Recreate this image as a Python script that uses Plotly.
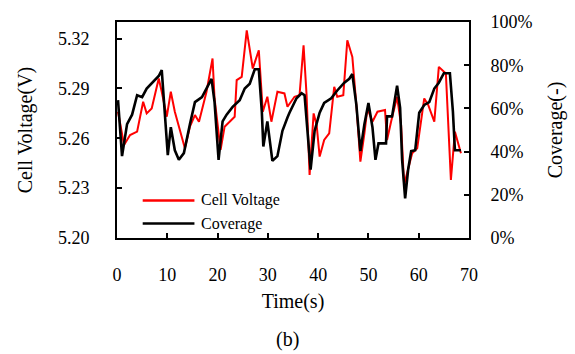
import plotly.graph_objects as go

# Cell voltage series (red, left axis)
t_volt = [0.2, 1.4, 2.6, 4.0, 5.2, 5.9, 6.9, 8.3, 8.9, 9.9, 10.7, 11.5, 13.5, 14.5, 15.5,
          16.3, 17.8, 19.0, 19.4, 20.6, 21.4, 22.4, 23.4, 23.8, 24.8, 25.8, 27.0, 28.2, 29.0, 29.9,
          30.7, 31.9, 33.3, 33.9, 35.3, 36.3, 37.1, 37.7, 38.3, 39.1, 39.7, 40.3, 41.2, 42.2, 43.2,
          43.8, 45.0, 45.8, 46.8, 47.6, 48.4, 49.2, 49.8, 50.8, 51.8, 53.3, 53.7, 54.5, 55.7, 56.5,
          57.1, 58.1, 58.7, 59.7, 61.1, 61.9, 63.1, 64.0, 65.4, 66.4, 67.2, 68.4]
voltage = [5.276, 5.256, 5.262, 5.264, 5.282, 5.275, 5.278, 5.296, 5.288, 5.273, 5.288, 5.276, 5.254, 5.267, 5.274,
           5.270, 5.288, 5.308, 5.284, 5.253, 5.267, 5.270, 5.273, 5.295, 5.297, 5.325, 5.302, 5.313, 5.276, 5.285,
           5.270, 5.288, 5.287, 5.279, 5.285, 5.286, 5.316, 5.286, 5.238, 5.275, 5.268, 5.249, 5.259, 5.263, 5.291,
           5.285, 5.286, 5.319, 5.309, 5.280, 5.246, 5.263, 5.278, 5.270, 5.276, 5.277, 5.259, 5.270, 5.285, 5.268,
           5.232, 5.244, 5.251, 5.254, 5.284, 5.280, 5.270, 5.303, 5.299, 5.235, 5.264, 5.251]

# Coverage series (black, right axis, %)
t_cov = [0.2, 1.0, 2.0, 3.0, 4.0, 5.0, 5.9, 7.5, 8.3, 8.9, 9.5, 10.1, 10.7, 11.5, 12.3,
         13.3, 14.5, 15.5, 16.9, 18.8, 19.4, 20.2, 21.0, 21.8, 23.0, 24.4, 25.4, 26.4, 27.4, 28.2,
         28.8, 29.1, 29.9, 30.9, 31.9, 32.9, 33.9, 34.3, 35.7, 36.7, 37.3, 38.5, 39.3, 40.3, 41.2,
         42.6, 43.8, 45.2, 46.2, 46.8, 47.6, 48.4, 49.2, 50.0, 50.8, 51.4, 52.0, 53.5, 53.7, 54.7,
         55.7, 56.3, 56.7, 57.3, 57.9, 58.5, 59.3, 60.1, 61.1, 62.1, 63.1, 64.0, 65.0, 66.2, 66.8,
         67.2, 68.4]
coverage = [63.8, 37.9, 52.7, 57.1, 66.1, 65.2, 69.2, 72.8, 75.0, 77.7, 58.5, 38.4, 51.3, 40.6, 36.2,
            39.3, 52.7, 62.9, 65.2, 73.7, 62.9, 36.2, 54.0, 57.1, 60.7, 63.8, 69.2, 71.4, 78.1, 78.1,
            58.5, 42.4, 54.0, 35.7, 37.9, 49.6, 55.8, 58.0, 64.7, 67.0, 66.1, 31.7, 49.6, 58.0, 62.5,
            64.7, 68.3, 71.9, 73.7, 75.9, 61.6, 40.2, 52.7, 62.5, 51.3, 36.2, 43.8, 43.8, 56.3, 56.3,
            70.5, 60.3, 36.2, 18.3, 31.7, 40.2, 40.6, 58.0, 61.6, 62.9, 69.2, 71.9, 76.3, 76.3, 58.5,
            40.6, 40.6]

x_ticks = [0, 10, 20, 30, 40, 50, 60, 70]
v_ticks = [5.20, 5.23, 5.26, 5.29, 5.32]
v_tick_text = ["5.20", "5.23", "5.26", "5.29", "5.32"]
c_ticks = [0, 20, 40, 60, 80, 100]
c_tick_text = ["0%", "20%", "40%", "60%", "80%", "100%"]

FONT = "Liberation Serif"

fig = go.Figure()
fig.add_trace(go.Scatter(x=t_volt, y=voltage, mode="lines", name="Cell Voltage",
                         line=dict(color="#ff0000", width=2), showlegend=False))
fig.add_trace(go.Scatter(x=t_cov, y=coverage, mode="lines", name="Coverage", yaxis="y2",
                         line=dict(color="#000000", width=2.6), showlegend=False))

axis_common = dict(showgrid=False, zeroline=False, showline=True, linecolor="black",
                   linewidth=2, ticks="inside", ticklen=5, tickwidth=1.5, tickcolor="black",
                   tickfont=dict(family=FONT, size=18, color="black"))

fig.update_layout(
    width=575, height=354,
    margin=dict(l=117, r=104, t=14, b=116),
    paper_bgcolor="white", plot_bgcolor="white",
    font=dict(family=FONT, color="black"),
    xaxis=dict(range=[0, 70], tickvals=x_ticks, mirror=True, ticklabelstandoff=19,
               title=dict(text="Time(s)", font=dict(family=FONT, size=20), standoff=10),
               **axis_common),
    yaxis=dict(range=[5.20, 5.33], tickvals=v_ticks, ticktext=v_tick_text, ticklabelstandoff=22,
               title=dict(text="Cell Voltage(V)", font=dict(family=FONT, size=20), standoff=20),
               **axis_common),
    yaxis2=dict(range=[0, 100], tickvals=c_ticks, ticktext=c_tick_text, overlaying="y",
                side="right", ticklabelstandoff=16,
                title=dict(text="Coverage(-)", font=dict(family=FONT, size=20), standoff=16),
                **axis_common),
)

# Legend drawn inside the plot (bottom-left)
legend_items = [("Cell Voltage", "#ff0000", 0.174), ("Coverage", "#000000", 0.067)]
for label, color, yy in legend_items:
    fig.add_shape(type="line", xref="paper", yref="paper", x0=0.073, x1=0.22, y0=yy, y1=yy,
                  line=dict(color=color, width=2.5))
    fig.add_annotation(xref="paper", yref="paper", x=0.232, y=yy, text=label, showarrow=False,
                       xanchor="left", yanchor="middle", font=dict(family=FONT, size=16, color="black"))

fig.add_annotation(xref="paper", yref="paper", x=0.485, y=-0.47, text="(b)", showarrow=False,
                   xanchor="center", yanchor="middle", font=dict(family=FONT, size=20, color="black"))

fig.write_html("out.html")
